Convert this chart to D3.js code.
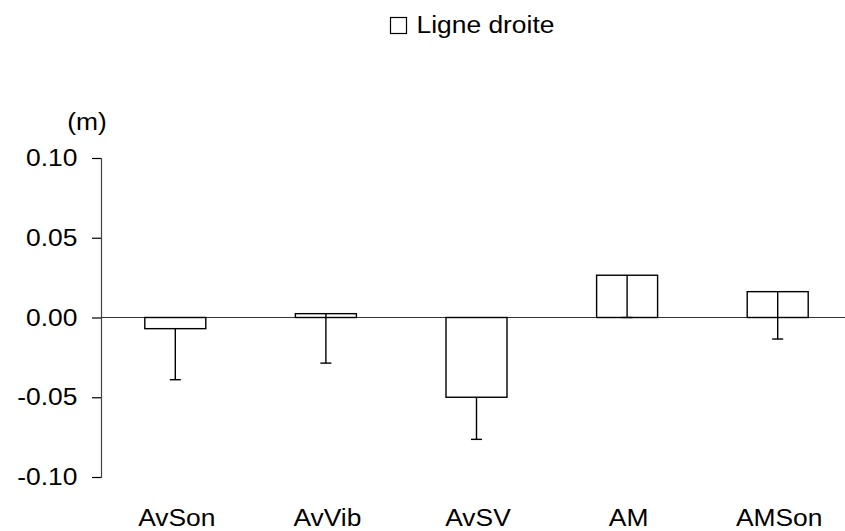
<!DOCTYPE html>
<html>
<head>
<meta charset="utf-8">
<script src="https://cdn.jsdelivr.net/npm/d3@7"></script>
<style>
  html, body { margin: 0; padding: 0; background: #fff; overflow: hidden; }
  svg { display: block; }
  text { font-family: "Liberation Sans", Arial, sans-serif; fill: #000; }
</style>
</head>
<body>
<svg id="chart" width="845" height="531"></svg>
<script>
const categories = ["AvSon", "AvVib", "AvSV", "AM", "AMSon"];
const values = [-0.007, 0.0024, -0.050, 0.0265, 0.0162];
const errors = [0.032, 0.031, 0.0264, 0.0265, 0.0297];
const yTicks = [-0.10, -0.05, 0.00, 0.05, 0.10];
const seriesName = "Ligne droite";
const unitLabel = "(m)";

const svg = d3.select("#chart");
const fs = 24, sx = 1.1;

const x = d3.scaleBand().domain(categories).range([100, 853])
  .paddingInner(0.595).paddingOuter(0.2975);
const y = d3.scaleLinear().domain([-0.1, 0.1]).range([477, 158]);

// y axis
const fmt = d3.format(".2f");
const yAxis = svg.append("g").attr("transform", "translate(101,0)")
  .call(d3.axisLeft(y).tickValues(yTicks).tickSize(9).tickPadding(12.5)
    .tickFormat(d => fmt(d).replace("\u2212", "-")));
yAxis.select(".domain").attr("stroke", "#444").attr("stroke-width", 1.2);
yAxis.selectAll(".tick line").attr("stroke", "#000").attr("stroke-width", 1.2);
yAxis.selectAll(".tick text").attr("font-size", fs).attr("font-family", "Liberation Sans, Arial, sans-serif")
  .attr("fill", "#000").attr("transform", `scale(${sx},1)`);

// zero line
svg.append("line").attr("x1", 101).attr("x2", 845).attr("y1", y(0)).attr("y2", y(0))
  .attr("stroke", "#333").attr("stroke-width", 1.2);

const data = categories.map((c, i) => ({ c, v: values[i], e: errors[i] }));

// bars
svg.append("g").selectAll("rect").data(data).join("rect")
  .attr("x", d => x(d.c))
  .attr("width", x.bandwidth())
  .attr("y", d => y(Math.max(0, d.v)))
  .attr("height", d => Math.abs(y(d.v) - y(0)))
  .attr("fill", "#fff").attr("stroke", "#000").attr("stroke-width", 1.4);

// error bars (downward)
const eg = svg.append("g").attr("stroke", "#000").attr("stroke-width", 1.4);
eg.selectAll("line.v").data(data).join("line").attr("class", "v")
  .attr("x1", d => x(d.c) + x.bandwidth() / 2).attr("x2", d => x(d.c) + x.bandwidth() / 2)
  .attr("y1", d => y(d.v)).attr("y2", d => y(d.v - d.e));
eg.selectAll("line.h").data(data).join("line").attr("class", "h")
  .attr("x1", d => x(d.c) + x.bandwidth() / 2 - 5.5).attr("x2", d => x(d.c) + x.bandwidth() / 2 + 5.5)
  .attr("y1", d => y(d.v - d.e)).attr("y2", d => y(d.v - d.e));

// category labels
svg.append("g").selectAll("g").data(categories).join("g")
  .attr("transform", d => `translate(${x(d) + x.bandwidth() / 2 + 1.5},525.5) scale(${sx},1)`)
  .append("text").attr("text-anchor", "middle").attr("font-size", fs).text(d => d);

// unit label
svg.append("g").attr("transform", `translate(87,130) scale(${sx},1)`)
  .append("text").attr("text-anchor", "middle").attr("font-size", fs).text(unitLabel);

// legend
svg.append("rect").attr("x", 390.5).attr("y", 17.5).attr("width", 16).attr("height", 16)
  .attr("fill", "#fff").attr("stroke", "#000").attr("stroke-width", 1.2);
svg.append("g").attr("transform", `translate(416.5,32.7) scale(${sx},1)`)
  .append("text").attr("font-size", fs).text(seriesName);
</script>
</body>
</html>
